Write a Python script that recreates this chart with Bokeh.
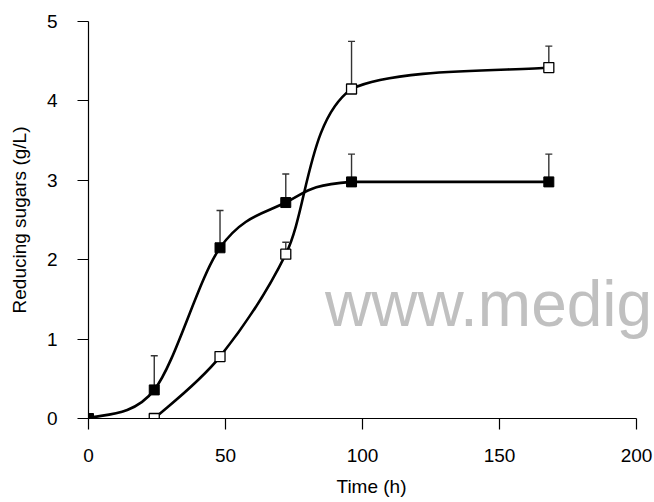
from bokeh.plotting import figure
from bokeh.models import Label, FixedTicker, Range1d
from bokeh.embed import file_html
from bokeh.resources import INLINE

# ---- data ----
time_filled = [0, 24, 48, 72, 96, 168]
sugar_filled = [0.0, 0.36, 2.15, 2.72, 2.98, 2.98]
err_filled = [0.0, 0.43, 0.47, 0.36, 0.35, 0.35]

time_open = [24, 48, 72, 96, 168]
sugar_open = [0.0, 0.78, 2.07, 4.15, 4.42]
err_open = [0.0, 0.0, 0.15, 0.60, 0.27]

x_ticks = [0, 50, 100, 150, 200]
y_ticks = [0, 1, 2, 3, 4, 5]
x_axis_max = 200

FONT = "Liberation Sans"

W, H = 654, 502
LEFT, TOP, BOTTOM = 88, 21, 84
AXIS_W = 548  # pixel length of the 0..200 axis; frame continues to the page edge
frame_w = W - LEFT
x_end = x_axis_max * frame_w / AXIS_W


def smooth_segments(xs, ys):
    """Catmull-Rom style cubic Bezier control points through the data points."""
    n = len(xs)
    out = dict(x0=[], y0=[], x1=[], y1=[], cx0=[], cy0=[], cx1=[], cy1=[])
    for i in range(n - 1):
        p0 = i - 1 if i > 0 else i
        p3 = i + 2 if i + 2 < n else i + 1
        c0x = xs[i] + (xs[i + 1] - xs[p0]) / 6.0
        c0y = ys[i] + (ys[i + 1] - ys[p0]) / 6.0
        c1x = xs[i + 1] - (xs[p3] - xs[i]) / 6.0
        c1y = ys[i + 1] - (ys[p3] - ys[i]) / 6.0
        lo, hi = min(ys[i], ys[i + 1]), max(ys[i], ys[i + 1])
        c0y = min(max(c0y, lo), hi)
        c1y = min(max(c1y, lo), hi)
        out["x0"].append(xs[i]); out["y0"].append(ys[i])
        out["x1"].append(xs[i + 1]); out["y1"].append(ys[i + 1])
        out["cx0"].append(c0x); out["cy0"].append(c0y)
        out["cx1"].append(c1x); out["cy1"].append(c1y)
    return out


p = figure(width=W, height=H, output_backend="svg", toolbar_location=None,
           x_range=Range1d(0, x_end), y_range=Range1d(0, 5),
           min_border_left=LEFT, min_border_right=0, min_border_top=TOP,
           min_border_bottom=BOTTOM)
p.outline_line_color = None
p.grid.visible = False
p.background_fill_color = "white"
p.border_fill_color = "white"

for ax in (p.xaxis[0], p.yaxis[0]):
    ax.axis_line_color = "black"
    ax.axis_line_width = 1.2
    ax.major_tick_line_color = "black"
    ax.major_tick_line_width = 1.2
    ax.major_tick_in = 0
    ax.major_tick_out = 11
    ax.minor_tick_line_color = None
    ax.major_label_text_font = FONT
    ax.major_label_text_font_size = "19px"
    ax.major_label_text_color = "black"
    ax.axis_label_text_font = FONT
    ax.axis_label_text_font_size = "19px"
    ax.axis_label_text_font_style = "normal"
    ax.axis_label_text_color = "black"

p.xaxis.ticker = FixedTicker(ticks=x_ticks)
p.yaxis.ticker = FixedTicker(ticks=y_ticks)
p.xaxis.bounds = (0, x_axis_max)
p.xaxis.axis_label = "Time (h)"
p.yaxis.axis_label = "Reducing sugars (g/L)"
p.xaxis.major_label_standoff = 19
p.xaxis.axis_label_standoff = 11
p.yaxis.major_label_standoff = 20
p.yaxis.axis_label_standoff = 14

# watermark
p.add_layout(Label(x=86.3, y=1.44, text="www.medig", text_font=FONT,
                   text_font_size="64px", text_color="#c0c0c0",
                   text_baseline="alphabetic"))

# smooth curves
for xs, ys in ((time_filled, sugar_filled), (time_open, sugar_open)):
    s = smooth_segments(xs, ys)
    p.bezier(x0=s["x0"], y0=s["y0"], x1=s["x1"], y1=s["y1"],
             cx0=s["cx0"], cy0=s["cy0"], cx1=s["cx1"], cy1=s["cy1"],
             line_color="black", line_width=2.6)

# error bars (upper only)
for xs, ys, es in ((time_filled, sugar_filled, err_filled), (time_open, sugar_open, err_open)):
    ex = [x for x, e in zip(xs, es) if e > 0]
    ey = [y for y, e in zip(ys, es) if e > 0]
    et = [y + e for y, e in zip(ys, es) if e > 0]
    p.segment(x0=ex, y0=ey, x1=ex, y1=et, line_color="#333333", line_width=1.4)
    p.scatter(x=ex, y=et, marker="dash", size=7, line_color="#333333", line_width=1.4)

# markers
p.scatter(x=time_filled, y=sugar_filled, marker="square", size=10,
          fill_color="black", line_color="black", line_width=1)
p.scatter(x=time_open, y=sugar_open, marker="square", size=10,
          fill_color="white", line_color="black", line_width=1.3)

open("out.html", "w").write(file_html(p, INLINE))
